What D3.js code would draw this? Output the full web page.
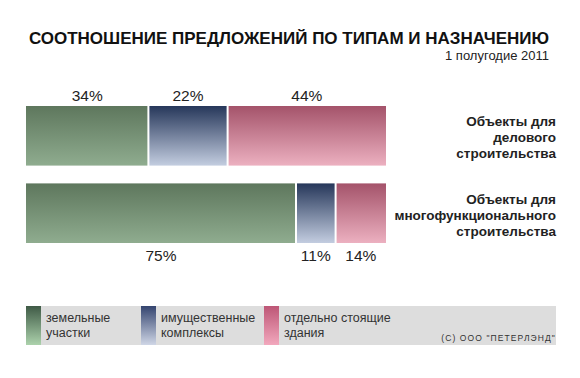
<!DOCTYPE html>
<html><head><meta charset="utf-8">
<script src="https://cdn.jsdelivr.net/npm/d3@7"></script>
<style>body{margin:0;background:#fff}svg{display:block}text{font-family:"Liberation Sans",Arial,sans-serif}</style>
</head><body><svg id="c" width="580" height="378"></svg>
<script>
const title = "СООТНОШЕНИЕ ПРЕДЛОЖЕНИЙ ПО ТИПАМ И НАЗНАЧЕНИЮ";
const subtitle = "1 полугодие 2011";
const categories = [["Объекты для","делового","строительства"],["Объекты для","многофункционального","строительства"]];
const seriesNames = [["земельные","участки"],["имущественные","комплексы"],["отдельно стоящие","здания"]];
const businessValues = [34, 22, 44];
const multiValues = [75, 11, 14];
const copyright = "(С) ООО \"ПЕТЕРЛЭНД\"";

const svg = d3.select("#c");
const defs = svg.append("defs");
const grads = [["#5e775d","#8fac8f"],["#26375a","#c3cde0"],["#a4536a","#ecb0c0"]];
const legGrads = [["#3f5a46","#acd2ac"],["#34446f","#cfd6e6"],["#bd5676","#f2a8bd"]];
function mkGrad(id, c){
  const g = defs.append("linearGradient").attr("id",id).attr("x1",0).attr("y1",0).attr("x2",0).attr("y2",1);
  g.append("stop").attr("offset","0%").attr("stop-color",c[0]);
  g.append("stop").attr("offset","100%").attr("stop-color",c[1]);
}
grads.forEach((c,i)=>mkGrad("g"+i,c));
legGrads.forEach((c,i)=>mkGrad("l"+i,c));

svg.append("text").attr("x",549).attr("y",44).attr("text-anchor","end")
  .attr("font-size",17).attr("font-weight","bold").attr("fill","#111").text(title);
svg.append("text").attr("x",549).attr("y",60).attr("text-anchor","end")
  .attr("font-size",13).attr("fill","#222").text(subtitle);

const x = d3.scaleLinear().domain([0,100]).range([26,386]);
const y = d3.scaleBand().domain([0,1]).range([106,243]).paddingInner(0.23);
const rows = [businessValues, multiValues];
rows.forEach((vals,r)=>{
  let acc = 0;
  const segs = vals.map((v,i)=>{const s={i,v,x0:acc,x1:acc+v}; acc+=v; return s;});
  const g = svg.append("g");
  g.selectAll("rect").data(segs).enter().append("rect")
    .attr("x",d=>x(d.x0)+(d.i>0?1:0))
    .attr("width",d=>x(d.x1)-x(d.x0)-(d.i>0?1:0)-(d.i<2?1:0))
    .attr("y",y(r)).attr("height",y.bandwidth())
    .attr("fill",d=>"url(#g"+d.i+")");
  g.selectAll("text.v").data(segs).enter().append("text")
    .attr("x",d=>(x(d.x0)+x(d.x1))/2)
    .attr("y",r===0? y(r)-5 : y(r)+y.bandwidth()+18)
    .attr("text-anchor","middle").attr("font-size",15.5).attr("fill","#222")
    .text(d=>d.v+"%");
  const t = svg.append("text").attr("text-anchor","end").attr("font-size",13.5).attr("font-weight","bold").attr("fill","#222");
  const cy = y(r)+y.bandwidth()/2 + 6.5 - 16;
  categories[r].forEach((line,k)=>{
    t.append("tspan").attr("x",556).attr("y",cy+k*16).text(line);
  });
});

// legend
svg.append("rect").attr("x",26).attr("y",306).attr("width",530).attr("height",39).attr("fill","#dddddd");
const legX = [26,141,264];
seriesNames.forEach((nm,i)=>{
  svg.append("rect").attr("x",legX[i]).attr("y",306).attr("width",15).attr("height",39).attr("fill","url(#l"+i+")");
  const t = svg.append("text").attr("font-size",12.5).attr("fill","#333");
  nm.forEach((line,k)=>t.append("tspan").attr("x",legX[i]+20).attr("y",322+k*14.5).text(line));
});
svg.append("text").attr("x",556).attr("y",341).attr("text-anchor","end")
  .attr("font-size",8.5).attr("letter-spacing",1.1).attr("fill","#333").text(copyright);
</script></body></html>
